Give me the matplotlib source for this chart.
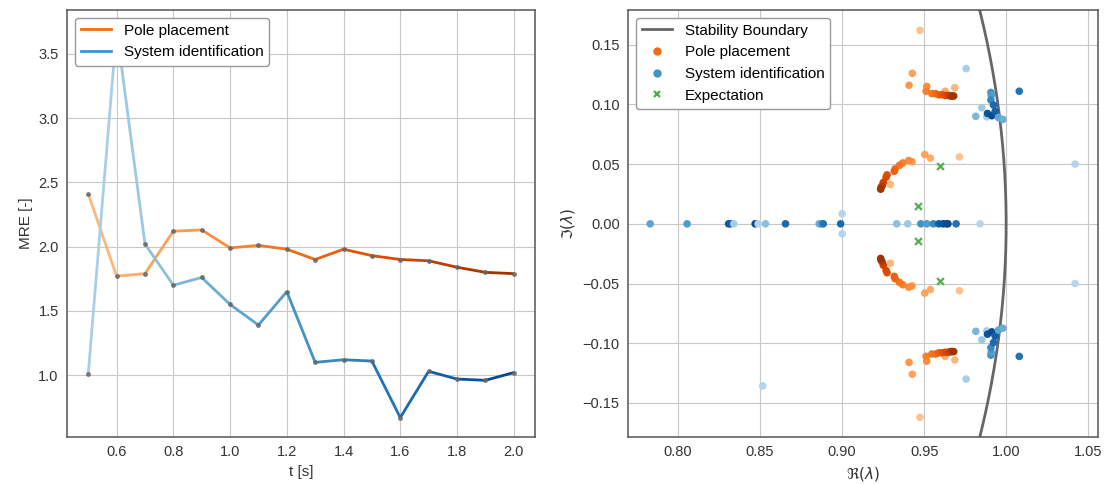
import numpy as np
import matplotlib.pyplot as plt
from matplotlib.collections import LineCollection
from matplotlib.lines import Line2D

plt.rcParams['font.family'] = ['Liberation Sans', 'DejaVu Sans']

# MRE over horizon
t = [0.5, 0.6, 0.7, 0.8, 0.9, 1.0, 1.1, 1.2, 1.3, 1.4, 1.5, 1.6, 1.7, 1.8, 1.9, 2.0]
mre_pole = [2.41, 1.77, 1.79, 2.12, 2.13, 1.99, 2.01, 1.98, 1.90, 1.98, 1.93, 1.90, 1.89, 1.84, 1.80, 1.79]
mre_sysid = [1.01, 3.69, 2.02, 1.70, 1.76, 1.55, 1.39, 1.65, 1.10, 1.12, 1.11, 0.67, 1.03, 0.97, 0.96, 1.02]

# eigenvalues (upper half plane, mirrored), shade = time index 0..15
pole_re = [0.9475, 0.9715, 0.9687, 0.9294, 0.9628, 0.9538, 0.9428, 0.9504, 0.9408, 0.9426,
           0.9516, 0.9406, 0.9512, 0.937, 0.9547, 0.935, 0.957, 0.9323, 0.959, 0.9318,
           0.961, 0.9274, 0.963, 0.9268, 0.965, 0.9251, 0.966, 0.9245, 0.967, 0.9237, 0.968, 0.9235]
pole_im = [0.162, 0.056, 0.114, 0.033, 0.111, 0.055, 0.126, 0.058, 0.116, 0.052,
           0.115, 0.053, 0.111, 0.051, 0.109, 0.049, 0.109, 0.046, 0.108, 0.044,
           0.108, 0.041, 0.1075, 0.039, 0.1075, 0.0346, 0.107, 0.032, 0.107, 0.0304, 0.107, 0.029]
pole_k = [0, 0, 1, 1, 2, 2, 3, 3, 4, 4, 5, 5, 6, 6, 7, 7, 8, 8, 9, 9,
          10, 10, 11, 11, 12, 12, 13, 13, 14, 14, 15, 15]

sysid_re = [0.9756, 1.008, 0.9907, 0.9909, 0.9907, 0.9923, 0.9852, 0.9815, 0.9882, 0.9886,
            0.9913, 0.9933, 0.9953, 0.998, 0.8516, 0.9, 1.042]
sysid_im = [0.130, 0.111, 0.110, 0.1075, 0.1036, 0.0994, 0.0972, 0.090, 0.0896, 0.0924,
            0.0905, 0.094, 0.089, 0.0874, 0.1357, 0.0084, 0.050]
sysid_k = [1, 11, 8, 7, 9, 12, 2, 4, 1, 14, 15, 13, 6, 5, 0, 0, 0]

sysid_real = [0.783, 0.8055, 0.8308, 0.832, 0.834, 0.847, 0.8488, 0.8533, 0.8655, 0.886,
              0.887, 0.8885, 0.8991, 0.9333, 0.940, 0.948, 0.9516, 0.9556, 0.9589, 0.9614,
              0.9634, 0.9645, 0.9695, 0.9841]
sysid_real_k = [6, 7, 14, 13, 1, 15, 0, 3, 12, 5, 6, 11, 12, 3, 2, 8, 7, 9, 13, 14,
                15, 15, 11, 0]

exp_re = [0.9597, 0.9465]
exp_im = [0.0483, 0.0148]

n = len(t)
oranges = plt.get_cmap('Oranges')(np.linspace(0.3, 0.9, n))
blues = plt.get_cmap('Blues')(np.linspace(0.3, 0.9, n))

fig = plt.figure(figsize=(11.09, 4.84), dpi=100)
ax1 = fig.add_axes([0.0604, 0.0971, 0.4220, 0.8822])
ax2 = fig.add_axes([0.5663, 0.0971, 0.4238, 0.8822])

for ax in (ax1, ax2):
    ax.grid(True, color='#c8c8c8', lw=0.8)
    ax.set_axisbelow(True)
    for s in ax.spines.values():
        s.set_color('#555555')
        s.set_linewidth(1.1)
    ax.tick_params(length=0, labelsize=10.5, colors='#333333', pad=6)

# left: MRE lines with gradient segments
for vals, cols in ((mre_pole, oranges), (mre_sysid, blues)):
    pts = np.column_stack([t, vals])
    segs = np.stack([pts[:-1], pts[1:]], axis=1)
    lc = LineCollection(segs, colors=cols[1:], linewidths=2, zorder=2)
    ax1.add_collection(lc)
    ax1.plot(t, vals, 'o', ms=2.5, color='#666666', alpha=0.8, zorder=3)
ax1.margins(0.05)
ax1.autoscale_view()
ax1.set_xlabel('t [s]', fontsize=11, color='#333333')
ax1.set_ylabel('MRE [-]', fontsize=11, color='#333333')
h1 = [Line2D([], [], color=oranges[8], lw=2), Line2D([], [], color=blues[8], lw=2)]
ax1.legend(h1, ['Pole placement', 'System identification'], loc='upper left',
           fontsize=11, framealpha=1, edgecolor='#999999')

# right: eigenvalues
pole_re_all = pole_re + pole_re
pole_im_all = pole_im + [-v for v in pole_im]
pole_c = [oranges[k] for k in pole_k + pole_k]
sys_re_all = sysid_re + sysid_re + sysid_real
sys_im_all = sysid_im + [-v for v in sysid_im] + [0.0] * len(sysid_real)
sys_c = [blues[k] for k in sysid_k + sysid_k + sysid_real_k]

theta = np.linspace(-0.5, 0.5, 400)
ax2.plot(np.cos(theta), np.sin(theta), color='#666666', lw=2, zorder=1)
ax2.scatter(pole_re_all, pole_im_all, c=pole_c, s=30, zorder=3, linewidths=0)
ax2.scatter(sys_re_all, sys_im_all, c=sys_c, s=30, zorder=3, linewidths=0)
ax2.scatter(exp_re + exp_re, exp_im + [-v for v in exp_im], marker='x', s=24,
            color='#4daf4a', linewidths=1.6, zorder=4)
ax2.set_xlim(0.7695, 1.056)
ax2.set_ylim(-0.1785, 0.179)
ax2.set_xticks([0.80, 0.85, 0.90, 0.95, 1.00, 1.05])
ax2.set_yticks([-0.15, -0.10, -0.05, 0.0, 0.05, 0.10, 0.15])
ax2.set_xlabel(r'$\Re(\lambda)$', fontsize=11, color='#333333')
ax2.set_ylabel(r'$\Im(\lambda)$', fontsize=11, color='#333333')
h2 = [Line2D([], [], color='#666666', lw=2),
      Line2D([], [], ls='', marker='o', ms=5, color=oranges[8]),
      Line2D([], [], ls='', marker='o', ms=5, color=blues[8]),
      Line2D([], [], ls='', marker='x', ms=5, mew=1.6, color='#4daf4a')]
ax2.legend(h2, ['Stability Boundary', 'Pole placement', 'System identification', 'Expectation'],
           loc='upper left', fontsize=11, framealpha=1, edgecolor='#999999')

fig.savefig('out.png', dpi=100)
